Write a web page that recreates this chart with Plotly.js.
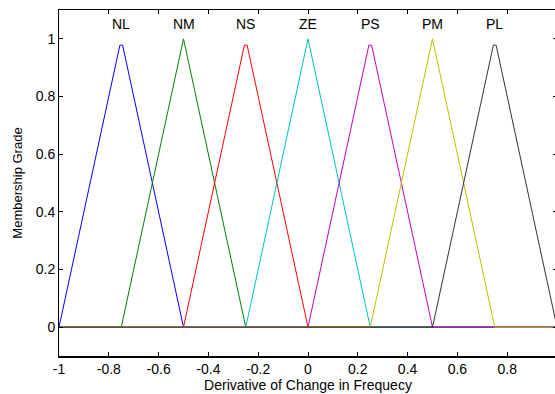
<!DOCTYPE html>
<html>
<head>
<meta charset="utf-8">
<script src="https://cdn.plot.ly/plotly-3.0.1.min.js"></script>
<style>
html,body{margin:0;padding:0;overflow:hidden;background:#fff;width:555px;height:394px;}
#chart{width:560px;height:394px;}
</style>
</head>
<body>
<div id="chart"></div>
<script>
// Membership function labels and their peak centres
const setNames = ["NL", "NM", "NS", "ZE", "PS", "PM", "PL"];
const setCenters = [-0.75, -0.5, -0.25, 0, 0.25, 0.5, 0.75];
const setColors = ["#0000ff", "#008000", "#ff0000", "#00bfbf", "#bf00bf", "#bfbf00", "#333333"];

const xNL = [-1, -0.7556, -0.7444, -0.5, 1];
const yNL = [0, 0.978, 0.978, 0, 0];
const xNM = [-1, -0.75, -0.5, -0.25, 1];
const yNM = [0, 0, 1, 0, 0];
const xNS = [-1, -0.5, -0.2556, -0.2444, 0, 1];
const yNS = [0, 0, 0.978, 0.978, 0, 0];
const xZE = [-1, -0.25, 0, 0.25, 1];
const yZE = [0, 0, 1, 0, 0];
const xPS = [-1, 0, 0.2444, 0.2556, 0.5, 1];
const yPS = [0, 0, 0.978, 0.978, 0, 0];
const xPM = [-1, 0.25, 0.5, 0.75, 1];
const yPM = [0, 0, 1, 0, 0];
const xPL = [-1, 0.5, 0.7444, 0.7556, 1];
const yPL = [0, 0, 0.978, 0.978, 0];

const xTicks = [-1, -0.8, -0.6, -0.4, -0.2, 0, 0.2, 0.4, 0.6, 0.8];
const xTickText = ["-1", "-0.8", "-0.6", "-0.4", "-0.2", "0", "0.2", "0.4", "0.6", "0.8"];
const yTicks = [0, 0.2, 0.4, 0.6, 0.8, 1];
const yTickText = ["0", "0.2", "0.4", "0.6", "0.8", "1"];

const labelY = 1.05;

const xs = [xNL, xNM, xNS, xZE, xPS, xPM, xPL];
const ys = [yNL, yNM, yNS, yZE, yPS, yPM, yPL];

const traces = xs.map((x, i) => ({
  x: x, y: ys[i], type: "scatter", mode: "lines",
  line: {color: setColors[i], width: 1},
  hoverinfo: "skip", showlegend: false
}));

const fam = "Liberation Sans, Arial, sans-serif";

const annotations = setNames.map((n, i) => ({
  x: setCenters[i], y: labelY, xref: "x", yref: "y",
  text: n, showarrow: false,
  font: {family: fam, size: 14, color: "#000"}
}));

const font = {family: fam, size: 14, color: "#000"};

Plotly.newPlot("chart", traces, {
  width: 560, height: 394,
  margin: {l: 59, r: 3, t: 10, b: 38},
  paper_bgcolor: "#fff", plot_bgcolor: "#fff",
  font: font,
  xaxis: {
    range: [-1, 1], tickvals: xTicks, ticktext: xTickText,
    showgrid: false, zeroline: false,
    showline: true, linecolor: "#000", linewidth: 1.5, mirror: "ticks",
    ticks: "inside", ticklen: 4, tickcolor: "#000", tickwidth: 1,
    tickfont: font,
    title: {text: "Derivative of Change in Frequecy", font: {family: fam, size: 14, color: "#000"}, standoff: 2}
  },
  yaxis: {
    range: [-0.1, 1.1], tickvals: yTicks, ticktext: yTickText,
    showgrid: false, zeroline: false,
    showline: true, linecolor: "#000", linewidth: 1, mirror: "ticks",
    ticks: "inside", ticklen: 4, tickcolor: "#000", tickwidth: 1,
    tickfont: font,
    title: {text: "Membership Grade", font: {family: fam, size: 13, color: "#000"}, standoff: 10}
  },
  annotations: annotations
}, {displayModeBar: false, staticPlot: true});
</script>
</body>
</html>
